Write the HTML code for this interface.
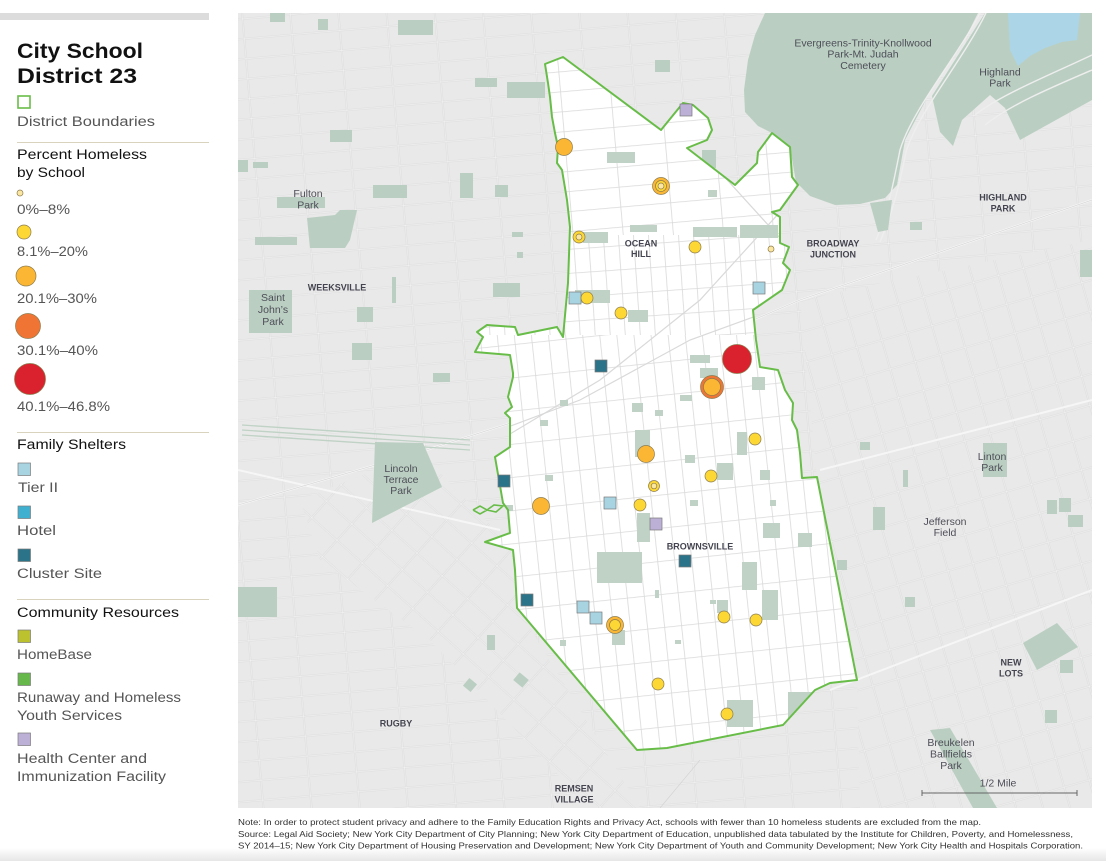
<!DOCTYPE html>
<html><head><meta charset="utf-8"><style>
html,body{margin:0;padding:0;background:#fff;}
svg{display:block;}
</style></head><body>
<svg width="1106" height="861" viewBox="0 0 1106 861" xmlns="http://www.w3.org/2000/svg" font-family="Liberation Sans, Arial, sans-serif">
<defs>
<linearGradient id="bot" x1="0" y1="0" x2="0" y2="1">
<stop offset="0" stop-color="#ffffff"/><stop offset="1" stop-color="#e6e6e6"/>
</linearGradient>
<pattern id="po" patternUnits="userSpaceOnUse" width="48" height="20" patternTransform="rotate(-5)">
<path d="M0 0H48M0 20H48M0 0V20M48 0V20" stroke="#d6d6d6" stroke-width="1.6" fill="none"/>
<path d="M0 0H48M0 20H48M0 0V20M48 0V20" stroke="#f4f4f4" stroke-width="0.7" fill="none"/>
</pattern>
<pattern id="pse" patternUnits="userSpaceOnUse" width="26" height="30" patternTransform="rotate(-16)">
<path d="M0 0H26M0 30H26M0 0V30M26 0V30" stroke="#d6d6d6" stroke-width="1.6" fill="none"/>
<path d="M0 0H26M0 30H26M0 0V30M26 0V30" stroke="#f4f4f4" stroke-width="0.7" fill="none"/>
</pattern>
<pattern id="psw" patternUnits="userSpaceOnUse" width="34" height="22" patternTransform="rotate(42)">
<path d="M0 0H34M0 22H34M0 0V22M34 0V22" stroke="#d6d6d6" stroke-width="1.6" fill="none"/>
<path d="M0 0H34M0 22H34M0 0V22M34 0V22" stroke="#f4f4f4" stroke-width="0.7" fill="none"/>
</pattern>
<pattern id="pn" patternUnits="userSpaceOnUse" width="50" height="20" patternTransform="rotate(-5)">
<path d="M0 0H50M0 0V20" stroke="#d9d9d9" stroke-width="1.6" fill="none"/>
</pattern>
<pattern id="pm" patternUnits="userSpaceOnUse" width="15" height="24" patternTransform="rotate(-4)">
<path d="M0 0H15M0 0V24" stroke="#d9d9d9" stroke-width="1.6" fill="none"/>
</pattern>
<pattern id="ps" patternUnits="userSpaceOnUse" width="17" height="33" patternTransform="rotate(-6)">
<path d="M0 0H17M0 0V33" stroke="#d9d9d9" stroke-width="1.6" fill="none"/>
</pattern>
<clipPath id="mapclip"><rect x="238" y="13" width="854" height="795"/></clipPath>
<clipPath id="dist"><polygon id="distpoly" points="563,57 661,130 683,103 693,105 708,118 712,130 707,140 687,148 735,185 747,173 757,163 758,152 772,133 790,147 792,177 798,185 780,210 772,212 780,217 780,243 789,247 783,263 790,270 782,290 753,310 756,340 760,367 778,370 785,390 793,403 792,420 797,430 800,453 802,478 817,477 857,680 830,683 815,690 783,725 667,748 637,750 517,608 515,570 513,550 485,542 510,533 508,510 503,503 495,457 510,447 510,418 505,413 512,407 508,397 513,377 513,373 510,355 475,352 483,337 477,332 487,325 515,327 518,335 557,327 563,337 568,283 570,227 567,200 562,170 557,163 558,147 555,133 552,117 550,97 548,83 545,64"/></clipPath>
</defs>

<!-- page bottom fade -->
<rect x="0" y="848" width="1106" height="13" fill="url(#bot)"/>

<!-- top-left grey bar -->
<rect x="0" y="13" width="209" height="7" fill="#dcdcdc"/>

<!-- ======== MAP ======== -->
<g clip-path="url(#mapclip)">
<rect x="238" y="13" width="854" height="795" fill="#e9e9e9"/>
<rect x="238" y="13" width="854" height="795" fill="url(#po)"/>
<!-- SE rotated grid -->
<polygon points="800,300 1092,240 1092,808 860,808 857,680 817,477" fill="#e9e9e9"/>
<polygon points="800,300 1092,240 1092,808 860,808 857,680 817,477" fill="url(#pse)"/>
<!-- SW diagonal grid band -->
<polygon points="300,500 420,452 510,545 520,612 640,808 590,808 430,640 320,560" fill="#e9e9e9"/>
<polygon points="300,500 420,452 510,545 520,612 640,808 590,808 430,640 320,560" fill="url(#psw)"/>

<!-- main roads outside -->
<g stroke="#f6f6f6" stroke-width="2" fill="none">
<path d="M238,505 L420,452 L520,420 L800,300 L1092,200"/>
<path d="M500,530 L238,470"/>
<path d="M820,470 L1092,400"/>
<path d="M830,690 L1092,590"/>
</g>
<g stroke="#d2d2d2" stroke-width="0.6" fill="none">
<path d="M238,505 L420,452 L520,420 L800,300 L1092,200"/>
<path d="M660,808 L700,760"/>
</g>

<!-- LIRR stripes -->
<g stroke="#bfd2c5" stroke-width="1.3" fill="none">
<path d="M242,425 L470,440"/><path d="M242,430 L470,445"/><path d="M242,435 L470,450"/>
</g>

<!-- cemetery -->
<polygon points="765,13 978,13 962,45 930,92 905,140 897,185 885,198 860,204 835,205 810,196 796,182 790,147 772,133 758,126 745,112 744,90 748,60 755,35" fill="#bacfc2"/>
<polygon points="985,13 1092,13 1092,100 1020,140 1005,108 990,95 962,120 953,146 940,132 932,96 955,60" fill="#bacfc2"/>
<path d="M1008,13 L1080,13 L1077,40 L1062,42 L1045,48 L1030,56 L1018,66 L1010,50 Z" fill="#acd5e7"/>
<g stroke="#eeeeee" stroke-width="1.4" fill="none">
<path d="M980,13 C955,60 912,110 900,150 C893,185 888,212 876,240"/>
<path d="M986,13 C962,62 918,112 906,152 C899,187 892,214 880,242"/>
<path d="M1092,55 C1050,75 1000,95 975,115"/>
<path d="M1092,70 C1050,88 1010,105 985,125"/>
</g>
<polygon points="870,203 892,200 888,230 878,232" fill="#bacfc2"/>

<!-- parks -->
<g fill="#bacfc2">
<polygon points="375,442 423,443 442,487 372,523"/>
<rect x="249" y="290" width="43" height="43"/>
<rect x="277" y="197" width="48" height="11"/>
<polygon points="307,218 335,215 340,210 357,210 350,240 345,248 310,248"/>
<rect x="238" y="587" width="39" height="30"/>
<polygon points="1023,643 1057,623 1078,647 1037,670"/>
<polygon points="930,730 950,728 997,808 973,808"/>
<rect x="983" y="443" width="24" height="34"/>
<rect x="270" y="13" width="15" height="9"/>
<rect x="318" y="19" width="10" height="11"/>
<rect x="398" y="20" width="35" height="15"/>
<rect x="330" y="130" width="22" height="12"/>
<rect x="238" y="160" width="10" height="12"/>
<rect x="253" y="162" width="15" height="6"/>
<rect x="373" y="185" width="34" height="13"/>
<rect x="460" y="173" width="13" height="25"/>
<rect x="255" y="237" width="42" height="8"/>
<rect x="357" y="307" width="16" height="15"/>
<rect x="352" y="343" width="20" height="17"/>
<rect x="392" y="277" width="4" height="26"/>
<rect x="433" y="373" width="17" height="9"/>
<rect x="507" y="82" width="38" height="16"/>
<rect x="475" y="78" width="22" height="9"/>
<rect x="495" y="185" width="13" height="12"/>
<rect x="460" y="177" width="13" height="20"/>
<rect x="512" y="232" width="11" height="5"/>
<rect x="517" y="252" width="6" height="6"/>
<rect x="493" y="283" width="27" height="14"/>
<rect x="655" y="60" width="15" height="12"/>
<rect x="702" y="150" width="14" height="18"/>
<rect x="837" y="560" width="10" height="10"/>
<rect x="860" y="442" width="10" height="8"/>
<rect x="873" y="507" width="12" height="23"/>
<rect x="903" y="470" width="5" height="17"/>
<rect x="1047" y="500" width="10" height="14"/>
<rect x="1059" y="498" width="12" height="14"/>
<rect x="1068" y="515" width="15" height="12"/>
<rect x="905" y="597" width="10" height="10"/>
<rect x="1045" y="710" width="12" height="13"/>
<rect x="1060" y="660" width="13" height="13"/>
<rect x="910" y="222" width="12" height="8"/>
<rect x="1080" y="250" width="12" height="27"/>
<rect x="465" y="680" width="10" height="10" transform="rotate(40 470 685)"/>
<rect x="515" y="675" width="12" height="10" transform="rotate(40 521 680)"/>
<rect x="487" y="635" width="8" height="15"/>
</g>

<!-- district fill -->
<use href="#distpoly" fill="#ffffff"/>
<g clip-path="url(#dist)">
<rect x="530" y="50" width="280" height="185" fill="url(#pn)"/>
<rect x="470" y="235" width="340" height="100" fill="url(#pm)"/>
<rect x="470" y="335" width="400" height="430" fill="url(#ps)"/>
<g stroke="#d9d9d9" stroke-width="1.2" fill="none">
<path d="M800,190 L700,300 L600,380 L500,440"/>
<path d="M800,300 L690,340 L580,400 L500,430"/>
<path d="M520,612 L640,760"/>
<path d="M700,150 L800,260"/>
</g>
<g fill="#bfd2c5">
<rect x="607" y="152" width="28" height="11"/>
<rect x="583" y="232" width="25" height="11"/>
<rect x="630" y="225" width="27" height="7"/>
<rect x="693" y="227" width="44" height="10"/>
<rect x="740" y="225" width="38" height="13"/>
<rect x="575" y="290" width="35" height="13"/>
<rect x="628" y="310" width="20" height="12"/>
<rect x="708" y="190" width="9" height="7"/>
<rect x="632" y="403" width="11" height="9"/>
<rect x="635" y="430" width="15" height="27"/>
<rect x="737" y="432" width="10" height="23"/>
<rect x="717" y="463" width="16" height="17"/>
<rect x="637" y="513" width="13" height="29"/>
<rect x="752" y="377" width="13" height="13"/>
<rect x="763" y="523" width="17" height="15"/>
<rect x="798" y="533" width="14" height="14"/>
<rect x="742" y="562" width="15" height="28"/>
<rect x="762" y="590" width="16" height="30"/>
<rect x="717" y="600" width="11" height="13"/>
<rect x="788" y="692" width="34" height="28"/>
<rect x="727" y="700" width="26" height="27"/>
<rect x="612" y="630" width="13" height="15"/>
<rect x="597" y="552" width="45" height="31"/>
<rect x="680" y="395" width="12" height="6"/>
<rect x="690" y="355" width="20" height="8"/>
<rect x="700" y="368" width="18" height="10"/>
<rect x="655" y="410" width="8" height="6"/>
<rect x="685" y="455" width="10" height="8"/>
<rect x="760" y="470" width="10" height="10"/>
<rect x="545" y="475" width="8" height="6"/>
<rect x="560" y="400" width="8" height="6"/>
<rect x="505" y="505" width="8" height="6"/>
<rect x="690" y="500" width="8" height="6"/>
<rect x="770" y="500" width="6" height="6"/>
<rect x="710" y="600" width="6" height="4"/>
<rect x="655" y="590" width="4" height="8"/>
<rect x="675" y="640" width="6" height="4"/>
<rect x="560" y="640" width="6" height="6"/>
<rect x="540" y="420" width="8" height="6"/>
</g>
</g>
<!-- district boundary -->
<use href="#distpoly" fill="none" stroke="#68bd48" stroke-width="2" stroke-linejoin="round"/>
<polyline points="473,510 480,506 487,510 494,505 503,506 496,512 487,510 480,514 473,510" fill="none" stroke="#68bd48" stroke-width="1.6"/>

<!-- map labels -->
<g fill="#4e4e58" font-size="10.5" text-anchor="middle">
<text x="863" y="46.5">Evergreens-Trinity-Knollwood</text>
<text x="863" y="57.5">Park-Mt. Judah</text>
<text x="863" y="69">Cemetery</text>
<text x="1000" y="75.5">Highland</text>
<text x="1000" y="86.5">Park</text>
<text x="308" y="197">Fulton</text>
<text x="308" y="208.5">Park</text>
<text x="273" y="301">Saint</text>
<text x="273" y="313">John’s</text>
<text x="273" y="325">Park</text>
<text x="401" y="472">Lincoln</text>
<text x="401" y="483">Terrace</text>
<text x="401" y="494">Park</text>
<text x="992" y="460">Linton</text>
<text x="992" y="471">Park</text>
<text x="945" y="525">Jefferson</text>
<text x="945" y="536">Field</text>
<text x="951" y="746">Breukelen</text>
<text x="951" y="757.5">Ballfields</text>
<text x="951" y="769">Park</text>
<text x="998" y="786.5">1/2 Mile</text>
</g>
<g fill="#444450" font-size="9" font-weight="bold" text-anchor="middle">
<text x="1003" y="200.5">HIGHLAND</text>
<text x="1003" y="211.5">PARK</text>
<text x="833" y="246.5">BROADWAY</text>
<text x="833" y="257.5">JUNCTION</text>
<text x="641" y="246.5">OCEAN</text>
<text x="641" y="257">HILL</text>
<text x="337" y="290.5">WEEKSVILLE</text>
<text x="700" y="549.5">BROWNSVILLE</text>
<text x="1011" y="665.5">NEW</text>
<text x="1011" y="676.5">LOTS</text>
<text x="396" y="726.5">RUGBY</text>
<text x="574" y="791.5">REMSEN</text>
<text x="574" y="802.5">VILLAGE</text>
</g>
<!-- scale bar -->
<g stroke="#666" stroke-width="1">
<path d="M922,793 H1077"/><path d="M922,790 V796"/><path d="M1077,790 V796"/>
</g>

<!-- shelters / resources squares -->
<g stroke="#7b7b7b" stroke-width="0.7">
<rect x="680" y="104" width="12" height="12" fill="#bcb0d6"/>
<rect x="650" y="518" width="12" height="12" fill="#bcb0d6"/>
<rect x="753" y="282" width="12" height="12" fill="#a8d4e2"/>
<rect x="569" y="292" width="12" height="12" fill="#a8d4e2"/>
<rect x="604" y="497" width="12" height="12" fill="#a8d4e2"/>
<rect x="577" y="601" width="12" height="12" fill="#a8d4e2"/>
<rect x="590" y="612" width="12" height="12" fill="#a8d4e2"/>
<rect x="595" y="360" width="12" height="12" fill="#2a7388"/>
<rect x="498" y="475" width="12" height="12" fill="#2a7388"/>
<rect x="679" y="555" width="12" height="12" fill="#2a7388"/>
<rect x="521" y="594" width="12" height="12" fill="#2a7388"/>
</g>

<!-- schools -->
<g stroke="#8d7c4e" stroke-width="0.7">
<circle cx="564" cy="147" r="8.5" fill="#fbb733"/>
<circle cx="661" cy="186" r="8.5" fill="#fbb733"/>
<circle cx="661" cy="186" r="5.5" fill="#fdd835"/>
<circle cx="661" cy="186" r="3" fill="#fbe6a2"/>
<circle cx="579" cy="237" r="6" fill="#fdd835"/>
<circle cx="579" cy="237" r="3" fill="#fbe6a2"/>
<circle cx="695" cy="247" r="6" fill="#fdd835"/>
<circle cx="771" cy="249" r="3" fill="#fbe6a2"/>
<circle cx="587" cy="298" r="6" fill="#fdd835"/>
<circle cx="621" cy="313" r="6" fill="#fdd835"/>
<circle cx="737" cy="359" r="14.5" fill="#d9222e"/>
<circle cx="712" cy="387" r="11.5" fill="#f07535"/>
<circle cx="712" cy="387" r="8.5" fill="#fbb733"/>
<circle cx="755" cy="439" r="6" fill="#fdd835"/>
<circle cx="646" cy="454" r="8.5" fill="#fbb733"/>
<circle cx="711" cy="476" r="6" fill="#fdd835"/>
<circle cx="654" cy="486" r="5.5" fill="#fdd835"/>
<circle cx="654" cy="486" r="2.8" fill="#fbe6a2"/>
<circle cx="541" cy="506" r="8.5" fill="#fbb733"/>
<circle cx="640" cy="505" r="6" fill="#fdd835"/>
<circle cx="615" cy="625" r="8.5" fill="#fbb733"/>
<circle cx="615" cy="625" r="5.5" fill="#fdd835"/>
<circle cx="724" cy="617" r="6" fill="#fdd835"/>
<circle cx="756" cy="620" r="6" fill="#fdd835"/>
<circle cx="658" cy="684" r="6" fill="#fdd835"/>
<circle cx="727" cy="714" r="6" fill="#fdd835"/>
</g>
</g>

<!-- ======== LEGEND ======== -->
<g fill="#111">
<text x="17" y="58" font-size="21" font-weight="bold" textLength="126" lengthAdjust="spacingAndGlyphs">City School</text>
<text x="17" y="83" font-size="21" font-weight="bold" textLength="120" lengthAdjust="spacingAndGlyphs">District 23</text>
</g>
<rect x="18" y="96" width="12" height="12" fill="none" stroke="#68bd48" stroke-width="1.6"/>
<g font-size="13.5" fill="#555">
<text x="17" y="126" textLength="138" lengthAdjust="spacingAndGlyphs">District Boundaries</text>
</g>
<g stroke="#d9d3bd" stroke-width="1">
<path d="M17,142.5 H209"/><path d="M17,432.5 H209"/><path d="M17,599.5 H209"/>
</g>
<g font-size="13.5" fill="#111">
<text x="17" y="159" textLength="130" lengthAdjust="spacingAndGlyphs">Percent Homeless</text>
<text x="17" y="177" textLength="68" lengthAdjust="spacingAndGlyphs">by School</text>
<text x="17" y="449" textLength="109" lengthAdjust="spacingAndGlyphs">Family Shelters</text>
<text x="17" y="617" textLength="162" lengthAdjust="spacingAndGlyphs">Community Resources</text>
</g>
<g stroke="#8d7c4e" stroke-width="0.7">
<circle cx="20" cy="193" r="3" fill="#fbe6a2"/>
<circle cx="24" cy="232" r="7" fill="#fdd835"/>
<circle cx="26" cy="276" r="10" fill="#fbb733"/>
<circle cx="28" cy="326" r="12.5" fill="#f07535"/>
<circle cx="30" cy="379" r="15.5" fill="#d9222e"/>
</g>
<g stroke="#7b7b7b" stroke-width="0.7">
<rect x="18" y="463" width="12.5" height="12.5" fill="#a8d4e2"/>
<rect x="18" y="506" width="12.5" height="12.5" fill="#3fb0d0"/>
<rect x="18" y="549" width="12.5" height="12.5" fill="#2a7388"/>
<rect x="18" y="630" width="12.5" height="12.5" fill="#bcc22e"/>
<rect x="18" y="673" width="12.5" height="12.5" fill="#65b849"/>
<rect x="18" y="733" width="12.5" height="12.5" fill="#bcb0d6"/>
</g>
<g font-size="13.5" fill="#555">
<text x="17" y="214" textLength="53" lengthAdjust="spacingAndGlyphs">0%–8%</text>
<text x="17" y="256" textLength="71" lengthAdjust="spacingAndGlyphs">8.1%–20%</text>
<text x="17" y="303" textLength="80" lengthAdjust="spacingAndGlyphs">20.1%–30%</text>
<text x="17" y="355" textLength="81" lengthAdjust="spacingAndGlyphs">30.1%–40%</text>
<text x="17" y="411" textLength="93" lengthAdjust="spacingAndGlyphs">40.1%–46.8%</text>
<text x="18" y="492" textLength="40" lengthAdjust="spacingAndGlyphs">Tier II</text>
<text x="17" y="535" textLength="39" lengthAdjust="spacingAndGlyphs">Hotel</text>
<text x="17" y="578" textLength="85" lengthAdjust="spacingAndGlyphs">Cluster Site</text>
<text x="17" y="659" textLength="75" lengthAdjust="spacingAndGlyphs">HomeBase</text>
<text x="17" y="702" textLength="164" lengthAdjust="spacingAndGlyphs">Runaway and Homeless</text>
<text x="17" y="720" textLength="105" lengthAdjust="spacingAndGlyphs">Youth Services</text>
<text x="17" y="763" textLength="130" lengthAdjust="spacingAndGlyphs">Health Center and</text>
<text x="17" y="781" textLength="149" lengthAdjust="spacingAndGlyphs">Immunization Facility</text>
</g>

<!-- ======== FOOTNOTES ======== -->
<g font-size="8.4" fill="#333">
<text x="238" y="825" textLength="743" lengthAdjust="spacingAndGlyphs">Note: In order to protect student privacy and adhere to the Family Education Rights and Privacy Act, schools with fewer than 10 homeless students are excluded from the map.</text>
<text x="238" y="837" textLength="835" lengthAdjust="spacingAndGlyphs">Source: Legal Aid Society; New York City Department of City Planning; New York City Department of Education, unpublished data tabulated by the Institute for Children, Poverty, and Homelessness,</text>
<text x="238" y="848.5" textLength="845" lengthAdjust="spacingAndGlyphs">SY 2014–15; New York City Department of Housing Preservation and Development; New York City Department of Youth and Community Development; New York City Health and Hospitals Corporation.</text>
</g>
</svg>
</body></html>
